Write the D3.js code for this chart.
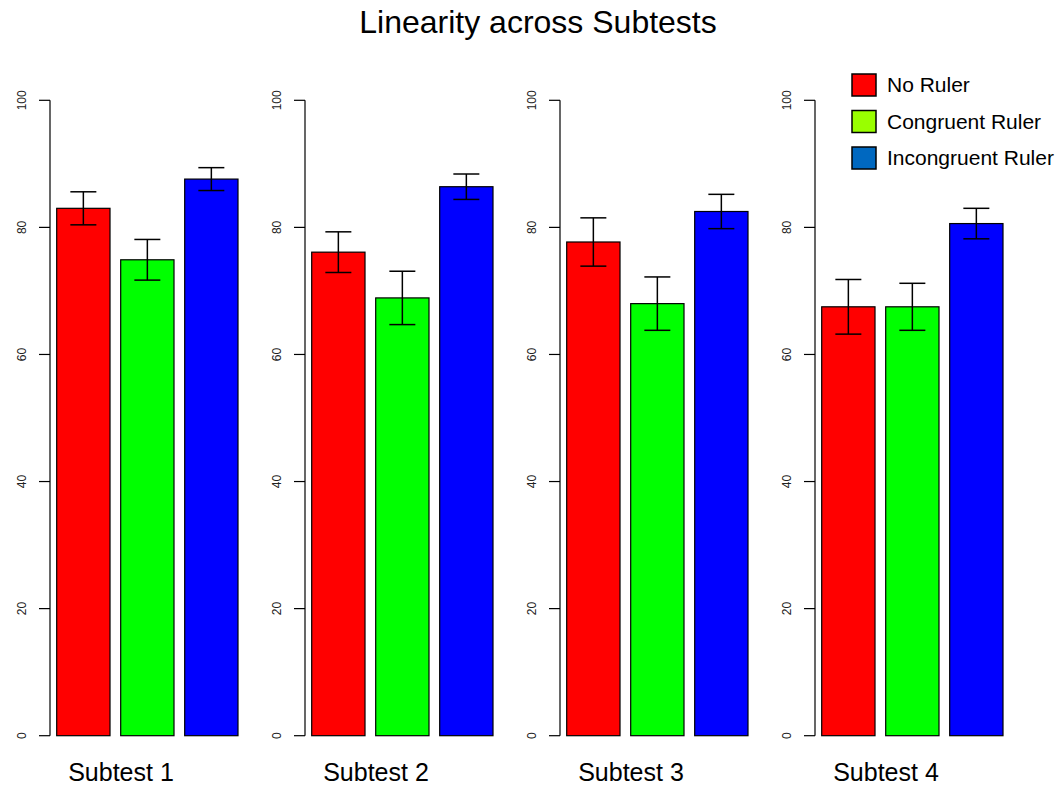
<!DOCTYPE html>
<html>
<head>
<meta charset="utf-8">
<script src="https://cdn.jsdelivr.net/npm/d3@7.9.0/dist/d3.min.js"></script>
<style>
  body { margin: 0; background: #fff; }
  svg { font-family: "Liberation Sans", Arial, sans-serif; display: block; }
</style>
</head>
<body>
<svg id="chart" width="1062" height="786"></svg>
<script>
const subtests = ['Subtest 1', 'Subtest 2', 'Subtest 3', 'Subtest 4'];
const conditions = ['No Ruler', 'Congruent Ruler', 'Incongruent Ruler'];
const noRuler = [83.0, 76.1, 77.7, 67.5];
const congruent = [74.9, 68.9, 68.0, 67.5];
const incongruent = [87.6, 86.4, 82.5, 80.6];
const noRulerErr = [2.6, 3.2, 3.8, 4.3];
const congruentErr = [3.2, 4.2, 4.2, 3.7];
const incongruentErr = [1.8, 2.0, 2.7, 2.4];
const yTicks = [0, 20, 40, 60, 80, 100];

const barColors = ['#ff0000', '#00ff00', '#0000ff'];
const legendColors = ['#ff0000', '#99ff00', '#0068c0'];

const means = [noRuler, congruent, incongruent];
const errs = [noRulerErr, congruentErr, incongruentErr];

const svg = d3.select('#chart');

const y = d3.scaleLinear().domain([0, 100]).range([735.7, 100.3]);
const panelX = d3.scaleBand().domain(subtests).range([50, 1070]);

// title
svg.append('text')
  .attr('x', 538).attr('y', 33)
  .attr('text-anchor', 'middle')
  .attr('font-size', 32)
  .text('Linearity across Subtests');

subtests.forEach((name, i) => {
  const ax = panelX(name);
  const g = svg.append('g');

  // y axis
  g.append('line')
    .attr('x1', ax).attr('x2', ax)
    .attr('y1', y(0)).attr('y2', y(100))
    .attr('stroke', '#000').attr('stroke-width', 1.2);
  g.selectAll('.tick').data(yTicks).enter().append('line')
    .attr('x1', ax - 11).attr('x2', ax)
    .attr('y1', d => y(d)).attr('y2', d => y(d))
    .attr('stroke', '#000').attr('stroke-width', 1.2);
  g.selectAll('.tl').data(yTicks).enter().append('text')
    .attr('transform', d => `translate(${ax - 28},${y(d)}) rotate(-90)`)
    .attr('text-anchor', 'middle')
    .attr('font-size', 12)
    .attr('dy', '0.35em')
    .attr('fill', '#222')
    .text(d => d);

  const x = d3.scaleBand().domain(conditions)
    .range([ax + 6.7, ax + 188]).paddingInner(0.167).paddingOuter(0);

  const rows = conditions.map((c, j) => ({ c, j, v: means[j][i], e: errs[j][i] }));

  g.selectAll('rect.bar').data(rows).enter().append('rect')
    .attr('x', d => x(d.c))
    .attr('y', d => y(d.v))
    .attr('width', x.bandwidth())
    .attr('height', d => y(0) - y(d.v))
    .attr('fill', d => barColors[d.j])
    .attr('stroke', '#000').attr('stroke-width', 1.2);

  // error bars
  const cap = 13;
  rows.forEach(d => {
    const cx = x(d.c) + x.bandwidth() / 2;
    g.append('line')
      .attr('x1', cx).attr('x2', cx)
      .attr('y1', y(d.v - d.e)).attr('y2', y(d.v + d.e))
      .attr('stroke', '#000').attr('stroke-width', 1.5);
    [d.v - d.e, d.v + d.e].forEach(v => {
      g.append('line')
        .attr('x1', cx - cap).attr('x2', cx + cap)
        .attr('y1', y(v)).attr('y2', y(v))
        .attr('stroke', '#000').attr('stroke-width', 1.5);
    });
  });

  g.append('text')
    .attr('x', ax + 71).attr('y', 781)
    .attr('text-anchor', 'middle')
    .attr('font-size', 25)
    .text(name);
});

// legend
const legend = svg.append('g');
conditions.forEach((c, j) => {
  const cy = 85 + j * 36.5;
  legend.append('rect')
    .attr('x', 852).attr('y', cy - 11)
    .attr('width', 24).attr('height', 22)
    .attr('fill', legendColors[j])
    .attr('stroke', '#000').attr('stroke-width', 1.5);
  legend.append('text')
    .attr('x', 887).attr('y', cy)
    .attr('dy', '0.35em')
    .attr('font-size', 21)
    .text(c);
});
</script>
</body>
</html>
